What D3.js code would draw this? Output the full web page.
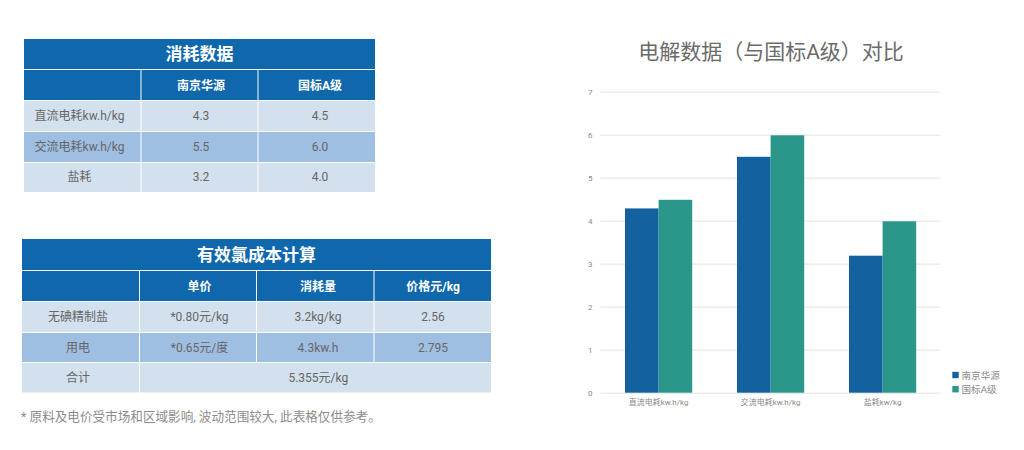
<!DOCTYPE html>
<html><head><meta charset="utf-8">
<script src="https://cdn.jsdelivr.net/npm/d3@7"></script>
<style>html,body{margin:0;padding:0;background:#fff}svg{display:block}text{font-family:Roboto,"Noto Sans CJK SC",sans-serif}</style>
</head><body><svg id="c" width="1024" height="450"></svg>
<script>
const table1Title = "消耗数据";
const table1Rows = [
  ["", "南京华源", "国标A级"],
  ["直流电耗kw.h/kg", "4.3", "4.5"],
  ["交流电耗kw.h/kg", "5.5", "6.0"],
  ["盐耗", "3.2", "4.0"]
];
const table2Title = "有效氯成本计算";
const table2Rows = [
  ["", "单价", "消耗量", "价格元/kg"],
  ["无碘精制盐", "*0.80元/kg", "3.2kg/kg", "2.56"],
  ["用电", "*0.65元/度", "4.3kw.h", "2.795"],
  ["合计", "5.355元/kg"]
];
const footnote = "* 原料及电价受市场和区域影响, 波动范围较大, 此表格仅供参考。";
const chartTitle = "电解数据（与国标A级）对比";
const categories = ["直流电耗kw.h/kg", "交流电耗kw.h/kg", "盐耗kw/kg"];
const seriesNames = ["南京华源", "国标A级"];
const nanjing = [4.3, 5.5, 3.2];
const guobiao = [4.5, 6.0, 4.0];
const yTicks = [0, 1, 2, 3, 4, 5, 6, 7];

const BLUE = "#0F67AC", L1 = "#D3E1EF", L2 = "#9EBFE2", TXT = "#666666";
const svg = d3.select("#c");

function drawTable(title, rows, xs, ys, textX, textY, titleY, mergedX) {
  const g = svg.append("g");
  const left = xs[0], right = xs[xs.length - 1];
  g.append("rect").attr("x", left).attr("y", ys[0]).attr("width", right - left).attr("height", ys[1] - ys[0] - 1).attr("fill", BLUE);
  g.append("text").attr("x", (left + right) / 2).attr("y", titleY)
    .attr("text-anchor", "middle").attr("dominant-baseline", "central")
    .attr("font-size", 17).attr("font-weight", 700).attr("fill", "#fff").text(title);
  rows.forEach((row, r) => {
    const y0 = ys[r + 1], y1 = ys[r + 2];
    const fill = r === 0 ? BLUE : (r === 2 ? L2 : L1);
    const merged = row.length < xs.length - 1;
    row.forEach((t, c) => {
      const x0 = xs[c], x1 = (c === row.length - 1) ? right : xs[c + 1];
      g.append("rect").attr("x", x0 + (c ? 0.5 : 0)).attr("y", y0).attr("width", x1 - x0 - (c ? 0.5 : 0) - (x1 === right ? 0 : 0.5)).attr("height", y1 - y0 - 1).attr("fill", fill);
      g.append("text").attr("x", merged && c === row.length - 1 ? mergedX : textX[c]).attr("y", textY[r])
        .attr("text-anchor", "middle").attr("dominant-baseline", "central")
        .attr("font-size", 12).attr("font-weight", r === 0 ? 700 : 400)
        .attr("fill", r === 0 ? "#fff" : TXT).text(t);
    });
  });
}
drawTable(table1Title, table1Rows, [24, 141, 258, 375], [39, 70, 101, 132, 163, 193], [79.5, 201, 320], [85.5, 116, 146.5, 177], 54);
drawTable(table2Title, table2Rows, [22, 139.5, 256.5, 374, 491], [239, 271, 302, 333, 363, 393.5], [78, 199.5, 318, 433], [286.5, 317, 347.5, 378], 255, 318.3);

svg.append("text").attr("x", 21).attr("y", 421).attr("font-size", 12.6).attr("fill", "#8c8c8c").text(footnote);
svg.append("text").attr("x", 771).attr("y", 59).attr("text-anchor", "middle").attr("font-size", 21).attr("fill", "#6b6b6b").text(chartTitle);

const y = d3.scaleLinear().domain([0, 7]).range([392.7, 91.7]);
const x0 = d3.scaleBand().domain(categories).range([602.6, 938.6]).paddingInner(0.4).paddingOuter(0.2);
const x1 = d3.scaleBand().domain(seriesNames).range([0, x0.bandwidth()]);
const colors = d3.scaleOrdinal().domain(seriesNames).range(["#13629F", "#2A978A"]);

const yAxis = svg.append("g").attr("transform", "translate(600.5,0)")
  .call(d3.axisLeft(y).tickValues(yTicks).tickSize(-340).tickPadding(8).tickFormat(d3.format("d")));
yAxis.select(".domain").remove();
yAxis.selectAll("line").attr("stroke", "#ececec").attr("stroke-width", 1.4);
yAxis.selectAll("text").attr("font-size", 8).attr("fill", "#8a8a8a").attr("x", -8);

categories.forEach((cat, i) => {
  const g = svg.append("g").attr("transform", `translate(${x0(cat)},0)`);
  [nanjing[i], guobiao[i]].forEach((v, s) => {
    g.append("rect").attr("x", x1(seriesNames[s])).attr("y", y(v) + 0.6)
      .attr("width", x1.bandwidth()).attr("height", y(0) - y(v) - 0.6).attr("fill", colors(seriesNames[s]));
  });
});

const xAxis = svg.append("g").attr("transform", "translate(0,392.7)").call(d3.axisBottom(x0).tickSize(0).tickPadding(7));
xAxis.select(".domain").remove();
xAxis.selectAll("text").attr("font-size", 8).attr("fill", "#8a8a8a");

const legend = svg.append("g");
seriesNames.forEach((n, i) => {
  const ly = 375 + i * 14.2;
  legend.append("rect").attr("x", 952.3).attr("y", ly - 3.2).attr("width", 6.4).attr("height", 6.4).attr("fill", colors(n));
  legend.append("text").attr("x", 961.5).attr("y", ly).attr("dominant-baseline", "central").attr("font-size", 9.6).attr("fill", "#8a8a8a").text(n);
});
</script></body></html>
